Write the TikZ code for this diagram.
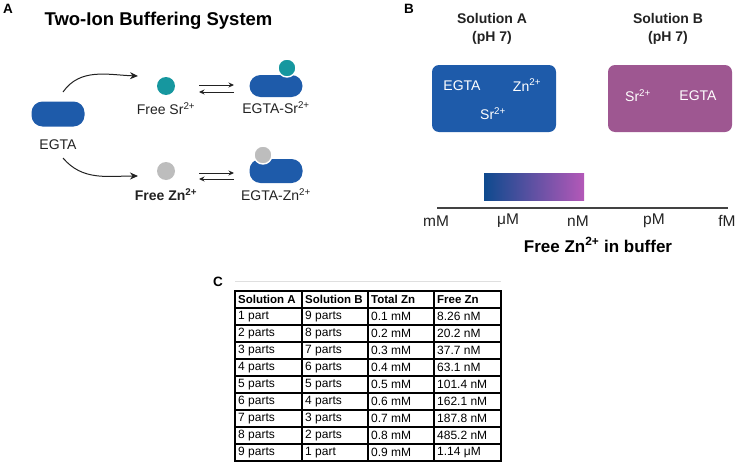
\documentclass[tikz,border=0pt]{standalone}
\usepackage{fontspec}
\setmainfont{Liberation Sans}
\usetikzlibrary{arrows.meta,calc}
\definecolor{egblue}{HTML}{1E5BAA}
\definecolor{srteal}{HTML}{16979F}
\definecolor{zngray}{HTML}{BDBDBD}
\definecolor{solb}{HTML}{9E5791}
\definecolor{gradl}{HTML}{0E4A8E}
\definecolor{gradr}{HTML}{B458B8}
\definecolor{txt}{HTML}{222222}
\tikzset{
  pill/.style={fill=egblue, rounded corners=11pt, minimum width=53pt, minimum height=25pt, inner sep=0pt},
  ion/.style={circle, minimum size=18pt, inner sep=0pt},
  boundion/.style={ion, draw=white, line width=1.4pt},
  lbl/.style={font=\fontsize{14}{16}\selectfont, text=txt, inner sep=0pt},
  panel/.style={font=\bfseries\fontsize{13.5}{16}\selectfont, inner sep=0pt},
  arr/.style={-{Stealth[length=8pt,width=7pt]}, line width=1pt, draw=txt},
  eqarr/.style={-{Stealth[length=5.5pt,width=5pt]}, line width=1pt, draw=txt},
  solbox/.style={rounded corners=7pt, minimum width=124pt, minimum height=67pt, inner sep=0pt},
  boxtxt/.style={font=\fontsize{14}{16}\selectfont, text=white, inner sep=0pt},
  head/.style={font=\bfseries\fontsize{14}{17.5}\selectfont, text=txt, inner sep=0pt, align=center},
  tick/.style={font=\fontsize{15.5}{18}\selectfont, text=txt, inner sep=0pt},
  cell/.style={font=\fontsize{12}{14}\selectfont, anchor=west, inner sep=0pt},
  hcell/.style={font=\bfseries\fontsize{11.5}{14}\selectfont, anchor=west, inner sep=0pt}
}
\begin{document}
\begin{tikzpicture}[x=1pt,y=-1pt]
\useasboundingbox (0,0) rectangle (739,463);
% ---------- Panel A ----------
\node[panel] (pA) at (8,9) {A};
\node[font=\bfseries\fontsize{18.5}{22}\selectfont, inner sep=0pt] (title) at (158.5,21) {Two-Ion Buffering System};
\node[pill] (egta) at (58,114) {};
\node[lbl] (egtal) at (58,145) {EGTA};
\node[ion, fill=srteal] (freeSr) at (166,86) {};
\node[lbl] (freeSrl) at (166,109) {Free Sr\textsuperscript{2+}};
\node[ion, fill=zngray] (freeZn) at (166,171) {};
\node[lbl, font=\bfseries\fontsize{14}{16}\selectfont] (freeZnl) at (166,195) {Free Zn\textsuperscript{2+}};
% complexes
\node[pill, minimum height=22pt] (cSr) at (276,86) {};
\node[boundion, fill=srteal] (cSrion) at (287,68) {};
\node[lbl] (cSrl) at (276,108) {EGTA-Sr\textsuperscript{2+}};
\node[pill, minimum height=24pt] (cZn) at (276,171) {};
\node[boundion, fill=zngray] (cZnion) at (263,155) {};
\node[lbl] (cZnl) at (276,195) {EGTA-Zn\textsuperscript{2+}};
% arrows
\coordinate (upS) at ($(egta)+(5,-22)$);
\coordinate (upE) at ($(freeSr)+(-28,-10)$);
\coordinate (loS) at ($(egtal)+(5,13)$);
\coordinate (loE) at ($(freeZn)+(-28,5)$);
\draw[arr] (upS) to[out=55,in=178] (upE);
\draw[arr] (loS) to[out=-50,in=180] (loE);
\draw[eqarr] ($(freeSr)+(33,-1)$) -- ($(cSr)+(-42,-1)$);
\draw[eqarr] ($(cSr)+(-42,6)$) -- ($(freeSr)+(33,6)$);
\draw[eqarr] ($(freeZn)+(33,2)$) -- ($(cZn)+(-42,2)$);
\draw[eqarr] ($(cZn)+(-42,8)$) -- ($(freeZn)+(33,8)$);
% ---------- Panel B ----------
\node[panel] (pB) at (409,9) {B};
\node[head] (solA) at (492,29) {Solution A\\(pH 7)};
\node[head] (solB) at (668,29) {Solution B\\(pH 7)};
\node[solbox, fill=egblue] (boxA) at (494,98.5) {};
\node[solbox, fill=solb] (boxB) at (670,98.5) {};
\node[boxtxt] (aE) at (462,86) {EGTA};
\node[boxtxt] (aZ) at (527,85) {Zn\textsuperscript{2+}};
\node[boxtxt] (aS) at (493,114) {Sr\textsuperscript{2+}};
\node[boxtxt] (bS) at (638,96) {Sr\textsuperscript{2+}};
\node[boxtxt] (bE) at (698,96) {EGTA};
\shade[left color=gradl, right color=gradr] (484,173) rectangle (584,200);
\coordinate (axL) at (437,208);
\coordinate (axR) at (728,208);
\draw[line width=1.3pt, draw=txt!85] (axL) -- (axR);
\node[tick] (tmM) at (436,221) {mM};
\node[tick] (tuM) at (508,221) {μM};
\node[tick] (tnM) at (578,221) {nM};
\node[tick] (tpM) at (654,221) {pM};
\node[tick] (tfM) at (727,221) {fM};
\node[font=\bfseries\fontsize{17}{20}\selectfont, inner sep=0pt] (axlbl) at (598,245) {Free Zn\textsuperscript{2+} in buffer};
% ---------- Panel C ----------
\node[panel] (pC) at (218,282) {C};
\draw[gray!25, line width=0.5pt] (235,281) -- (501,281);
\foreach \x/\t [count=\c] in {235/Solution A,302/Solution B,368/Total Zn,434/Free Zn}
  \node[hcell] (h\c) at (\x+3,299.5) {\t};
\foreach \a/\b/\tz/\fz [count=\r] in {
  1 part/9 parts/0.1 mM/8.26 nM,
  2 parts/8 parts/0.2 mM/20.2 nM,
  3 parts/7 parts/0.3 mM/37.7 nM,
  4 parts/6 parts/0.4 mM/63.1 nM,
  5 parts/5 parts/0.5 mM/101.4 nM,
  6 parts/4 parts/0.6 mM/162.1 nM,
  7 parts/3 parts/0.7 mM/187.8 nM,
  8 parts/2 parts/0.8 mM/485.2 nM,
  9 parts/1 part/0.9 mM/1.14 μM}{
  \node[cell] (r\r c1) at (238,299.5+17*\r) {\a};
  \node[cell] (r\r c2) at (305,299.5+17*\r) {\b};
  \node[cell] (r\r c3) at (371,299.5+17*\r) {\tz};
  \node[cell] (r\r c4) at (437,299.5+17*\r) {\fz};
}
\foreach \r in {1,...,9}
  \draw[line width=1.5pt] (235,291+17*\r) -- (501,291+17*\r);
\foreach \x in {302,368,434}
  \draw[line width=1.5pt] (\x,291) -- (\x,461);
\draw[line width=2pt] (235,291) rectangle (501,461);
\end{tikzpicture}
\end{document}
